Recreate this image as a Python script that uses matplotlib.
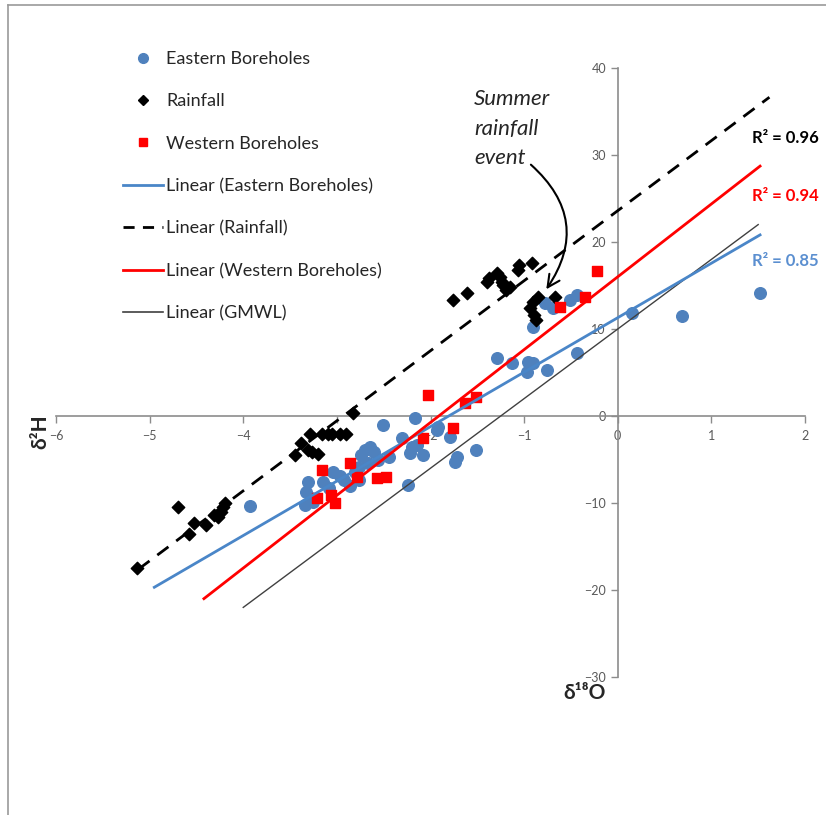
import matplotlib.pyplot as plt
from matplotlib.lines import Line2D
import numpy as np

plt.rcParams['font.family'] = ['Lato', 'DejaVu Sans']

# isotope data (delta 18O, delta 2H)
eastern_o18 = [1.52, 0.69, 0.15, -0.44, -0.43, -0.51, -0.69, -0.78, -0.91, -1.29,
               -1.13, -0.96, -0.91, -0.97, -0.76,
               -1.51, -1.72, -1.74, -1.79, -1.92, -1.93, -2.08, -2.17, -2.20, -2.22,
               -2.30, -2.14, -2.24, -2.51, -2.44,
               -2.70, -2.65, -2.60, -2.74, -2.56, -2.67, -2.76, -2.81, -2.76, -3.04,
               -2.97, -2.92, -2.86, -3.15, -3.31, -3.33, -3.28, -3.34, -3.25, -3.08,
               -3.93]
eastern_h2 = [14.1, 11.5, 11.8, 7.2, 13.9, 13.3, 12.4, 13.0, 10.2, 6.7,
              6.1, 6.2, 6.1, 5.1, 5.3,
              -3.9, -4.7, -5.3, -2.4, -1.3, -1.6, -4.5, -0.2, -3.6, -4.3,
              -2.5, -3.3, -7.9, -1.0, -4.7,
              -3.9, -3.6, -4.1, -4.5, -5.1, -5.4, -5.9, -6.4, -7.4, -6.4,
              -6.9, -7.4, -8.0, -7.6, -7.6, -8.7, -9.4, -10.2, -9.9, -8.3,
              -10.3]

rain_o18 = [-5.13, -4.70, -4.58, -4.53, -4.40, -4.31, -4.27, -4.24, -4.22, -4.19,
            -3.29, -3.16, -3.10, -3.05, -2.97, -2.90, -2.83, -3.38, -3.31, -3.27,
            -3.20, -3.45,
            -1.76, -1.61, -1.40, -1.37, -1.29, -1.26, -1.24, -1.23, -1.19, -1.15,
            -1.07, -1.05, -0.92, -0.91, -0.85, -0.94, -0.89, -0.87, -0.67]
rain_h2 = [-17.5, -10.5, -13.6, -12.3, -12.5, -11.4, -11.6, -11.0, -10.5, -10.0,
           -2.1, -2.1, -2.1, -2.1, -2.1, -2.1, 0.3, -3.1, -3.9, -4.1,
           -4.4, -4.5,
           13.3, 14.1, 15.4, 15.9, 16.4, 16.0, 15.4, 15.1, 14.5, 14.8,
           16.8, 17.4, 17.6, 13.1, 13.7, 12.4, 11.6, 11.0, 13.7]

western_o18 = [-3.16, -3.21, -3.06, -3.02, -2.86, -2.78, -2.57, -2.47, -2.08, -2.03,
               -1.76, -1.63, -1.51, -0.62, -0.35, -0.22]
western_h2 = [-6.2, -9.4, -9.1, -10.0, -5.4, -7.0, -7.1, -7.0, -2.5, 2.4,
              -1.4, 1.5, 2.2, 12.5, 13.7, 16.7]

# linear trend lines: slope, intercept, x range
eastern_fit = (6.26, 11.3, -4.95, 1.52)
rain_fit = (8.05, 23.6, -5.12, 1.62)
western_fit = (8.37, 16.0, -4.42, 1.52)
gmwl_fit = (8.0, 10.0, -4.0, 1.5)

r2_labels = ['R² = 0.96', 'R² = 0.94', 'R² = 0.85']

blue = '#4f81bd'
blue_line = '#4a86c8'
red = '#ff0000'
grey_txt = '#595959'

fig = plt.figure(figsize=(8.26, 8.15), dpi=100)
ax = fig.add_axes([56 / 826, 1 - 677 / 815, (805 - 56) / 826, (677 - 68) / 815])

ax.scatter(eastern_o18, eastern_h2, s=70, marker='o', color=blue, zorder=3)
ax.scatter(rain_o18, rain_h2, s=40, marker='D', color='black', zorder=3)
ax.scatter(western_o18, western_h2, s=55, marker='s', color=red, zorder=3)


def trend(fit):
    m, b, x0, x1 = fit
    xs = np.array([x0, x1])
    return xs, m * xs + b


x, y = trend(gmwl_fit)
ax.plot(x, y, color='#404040', lw=1.0, zorder=4)
x, y = trend(eastern_fit)
ax.plot(x, y, color=blue_line, lw=2.0, zorder=4)
x, y = trend(western_fit)
ax.plot(x, y, color=red, lw=2.0, zorder=4)
x, y = trend(rain_fit)
ax.plot(x, y, color='black', lw=2.0, ls=(0, (5, 3.5)), zorder=4)

ax.set_xlim(-6, 2)
ax.set_ylim(-30, 40)
ax.spines['left'].set_position(('data', 0))
ax.spines['bottom'].set_position(('data', 0))
ax.spines['top'].set_visible(False)
ax.spines['right'].set_visible(False)
for s in ('left', 'bottom'):
    ax.spines[s].set_color('#8c8c8c')
    ax.spines[s].set_linewidth(1.2)
ax.set_xticks(range(-6, 3))
ax.set_yticks(range(-30, 41, 10))
ax.tick_params(colors='#8c8c8c', labelcolor=grey_txt, labelsize=9, length=5, width=1.0,
               direction='out')
ax.tick_params(axis='x', pad=5)
ax.patch.set_visible(False)

# R squared labels at right end of trend lines
ax.text(1.43, 32.0, r2_labels[0], color='black', fontsize=12, fontweight='bold',
        ha='left', va='center', clip_on=False)
ax.text(1.43, 25.3, r2_labels[1], color=red, fontsize=12, fontweight='bold',
        ha='left', va='center', clip_on=False)
ax.text(1.43, 17.8, r2_labels[2], color='#5b8fd0', fontsize=12, fontweight='bold',
        ha='left', va='center', clip_on=False)

ax.annotate('', xy=(-0.78, 14.3), xytext=(-0.95, 29.1),
            arrowprops=dict(arrowstyle='->', color='black', lw=1.5,
                            mutation_scale=22,
                            connectionstyle='arc3,rad=-0.45'))
fig.text(474 / 826, 1 - 89 / 815, 'Summer\nrainfall\nevent', fontsize=16,
         style='italic', color='#262626', ha='left', va='top', linespacing=1.6)

fig.text(40 / 826, 1 - 432 / 815, 'δ²H', rotation=90, fontsize=15, fontweight='bold',
         ha='center', va='center', color='#262626')
fig.text(585 / 826, 1 - 693 / 815, 'δ¹⁸O', fontsize=15, fontweight='bold',
         ha='center', va='center', color='#262626')

handles = [
    Line2D([], [], ls='none', marker='o', ms=7, color=blue),
    Line2D([], [], ls='none', marker='D', ms=5, color='black'),
    Line2D([], [], ls='none', marker='s', ms=6, color=red),
    Line2D([], [], color=blue_line, lw=2.0),
    Line2D([], [], color='black', lw=2.0, ls=(0, (4, 3))),
    Line2D([], [], color=red, lw=2.0),
    Line2D([], [], color='#404040', lw=1.2),
]
labels = ['Eastern Boreholes', 'Rainfall', 'Western Boreholes',
          'Linear (Eastern Boreholes)', 'Linear (Rainfall)',
          'Linear (Western Boreholes)', 'Linear (GMWL)']
leg = fig.legend(handles, labels, loc='upper left', bbox_to_anchor=(123 / 826, 1 - 51 / 815),
                 frameon=False, fontsize=13, labelspacing=1.46, handlelength=2.2,
                 handletextpad=0.2, borderpad=0, borderaxespad=0)
for t in leg.get_texts():
    t.set_color('#262626')

# chart area border
fig.add_artist(Line2D([8 / 826, 8 / 826], [0, 1 - 5 / 815], color='#9a9a9a', lw=1.2))
fig.add_artist(Line2D([8 / 826, 1], [1 - 5 / 815, 1 - 5 / 815], color='#9a9a9a', lw=1.2))

fig.savefig('out.png', dpi=100)
